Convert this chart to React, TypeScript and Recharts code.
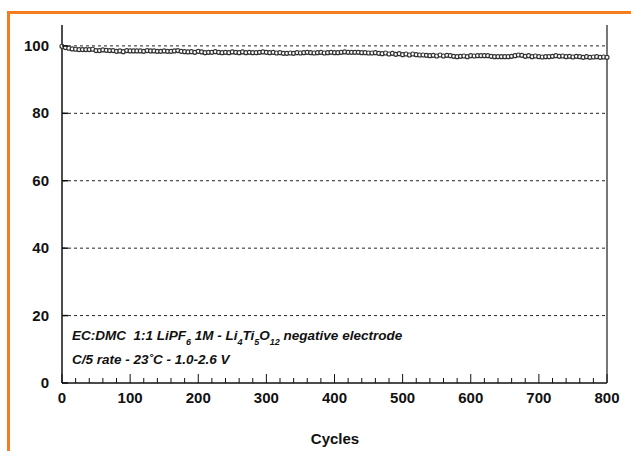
import { LineChart, Line, XAxis, YAxis, ReferenceLine } from 'recharts'

// capacity retention (%), one reading every 5 cycles from cycle 0 to 800
const cycleStep = 5
const retention = [
  99.9, 99.5, 99.3, 99.1, 99.0, 98.9, 98.9, 98.9, 98.9, 99.0,
  98.6, 98.6, 98.8, 98.7, 98.6, 98.6, 98.4, 98.5, 98.3, 98.6,
  98.5, 98.5, 98.5, 98.5, 98.4, 98.6, 98.5, 98.5, 98.4, 98.4,
  98.5, 98.4, 98.4, 98.5, 98.6, 98.4, 98.3, 98.2, 98.3, 98.1,
  98.4, 98.2, 98.0, 98.1, 98.1, 98.3, 98.1, 98.0, 98.1, 98.0,
  98.2, 98.1, 98.0, 98.2, 98.0, 98.1, 98.0, 98.0, 98.1, 98.2,
  98.1, 98.0, 98.1, 97.9, 98.0, 97.8, 97.8, 97.9, 97.8, 98.0,
  97.9, 98.0, 98.1, 98.0, 97.9, 98.0, 98.1, 97.9, 98.0, 98.1,
  98.0, 98.0, 98.1, 98.2, 98.1, 98.1, 98.1, 98.1, 98.0, 98.0,
  97.9, 97.9, 98.0, 97.8, 97.7, 97.9, 97.6, 97.8, 97.5, 97.7,
  97.4, 97.6, 97.3, 97.6, 97.4, 97.3, 97.3, 97.2, 97.1, 97.2,
  97.0, 97.3, 97.0, 97.2, 97.1, 96.9, 96.8, 96.9, 97.0, 96.8,
  97.1, 97.0, 97.1, 97.1, 97.1, 97.1, 96.9, 96.8, 96.8, 96.8,
  96.8, 96.8, 96.9, 97.1, 97.3, 97.2, 96.9, 97.1, 96.8, 97.0,
  96.8, 96.7, 96.8, 96.8, 96.9, 97.1, 96.9, 97.0, 96.8, 96.9,
  96.7, 96.9, 96.8, 96.6, 96.8, 96.6, 96.7, 96.8, 96.6, 96.7,
  96.6,
]
const xMajorTicks = [0, 100, 200, 300, 400, 500, 600, 700, 800]
const xMinorStep = 20
const yTicks = [0, 20, 40, 60, 80, 100]
const gridValues = [20, 40, 60, 80, 100]

const data = retention.map((v, i) => ({ cycle: i * cycleStep, retention: v }))
const xTicks = Array.from({ length: 800 / xMinorStep + 1 }, (_, i) => i * xMinorStep)

const font = '"Liberation Sans", Arial, Helvetica, sans-serif'
const orange = '#f47d20'

function XTick({ x, y, payload }: any) {
  const major = xMajorTicks.includes(payload.value)
  return (
    <g>
      <line x1={x} x2={x} y1={y} y2={y - (major ? 9 : 5)} stroke="#111" strokeWidth={1} />
      {major && (
        <text x={x} y={y + 20} textAnchor="middle" fontFamily={font} fontWeight="bold" fontSize={15} fill="#111">
          {payload.value}
        </text>
      )}
    </g>
  )
}

function YTickLeft({ x, y, payload }: any) {
  return (
    <g>
      <line x1={x} x2={x + 6} y1={y} y2={y} stroke="#111" strokeWidth={1.5} />
      <text x={x - 13} y={y + 5} textAnchor="end" fontFamily={font} fontWeight="bold" fontSize={15} fill="#111">
        {payload.value}
      </text>
    </g>
  )
}

function YTickRight({ x, y }: any) {
  return <line x1={x} x2={x - 6} y1={y} y2={y} stroke="#111" strokeWidth={1.5} />
}

export default function App() {
  const sub = { fontSize: 9 }
  return (
    <div style={{ position: 'absolute', left: 0, top: 0, width: 631, height: 451, overflow: 'hidden', background: '#fff' }}>
      <div
        style={{
          position: 'absolute',
          left: 7,
          top: 11,
          width: 700,
          height: 500,
          borderTop: `3px solid ${orange}`,
          borderLeft: `3px solid ${orange}`,
        }}
      />
      <LineChart
        width={631}
        height={451}
        data={data}
        margin={{ top: 25, right: 0, left: 0, bottom: 0 }}
        style={{ position: 'absolute', left: 0, top: 0 }}
      >
        <XAxis
          dataKey="cycle"
          type="number"
          domain={[0, 800]}
          ticks={xTicks}
          interval={0}
          height={68}
          tickSize={0}
          tickMargin={0}
          tickLine={false}
          tick={<XTick />}
          axisLine={{ stroke: '#111', strokeWidth: 1.5 }}
        />
        <YAxis
          yAxisId="left"
          type="number"
          domain={[0, 106.2]}
          ticks={yTicks}
          interval={0}
          width={62}
          tickSize={0}
          tickMargin={0}
          tickLine={false}
          tick={<YTickLeft />}
          axisLine={{ stroke: '#111', strokeWidth: 1.5 }}
        />
        <YAxis
          yAxisId="right"
          orientation="right"
          type="number"
          domain={[0, 106.2]}
          ticks={yTicks}
          interval={0}
          width={24}
          tickSize={0}
          tickMargin={0}
          tickLine={false}
          tick={<YTickRight />}
          axisLine={{ stroke: '#777', strokeWidth: 2 }}
        />
        {gridValues.map((g) => (
          <ReferenceLine key={g} yAxisId="left" y={g} stroke="#222" strokeDasharray="3 3" strokeWidth={1} />
        ))}
        <Line
          yAxisId="left"
          dataKey="retention"
          stroke="none"
          isAnimationActive={false}
          dot={{ r: 2, stroke: '#333', strokeWidth: 1.2, fill: '#fff' }}
        />
      </LineChart>
      <svg width={631} height={451} style={{ position: 'absolute', left: 0, top: 0, pointerEvents: 'none' }}>
        <text
          x={72}
          y={340}
          fontFamily={font}
          fontStyle="italic"
          fontWeight="bold"
          fontSize={13.5}
          fill="#111"
          style={{ whiteSpace: 'pre' }}
        >
          <tspan>EC:DMC  1:1 LiPF</tspan>
          <tspan dy={5} style={sub}>6</tspan>
          <tspan dy={-5}> 1M - Li</tspan>
          <tspan dy={5} style={sub}>4</tspan>
          <tspan dy={-5}>Ti</tspan>
          <tspan dy={5} style={sub}>5</tspan>
          <tspan dy={-5}>O</tspan>
          <tspan dy={5} style={sub}>12</tspan>
          <tspan dy={-5}> negative electrode</tspan>
        </text>
        <text x={72} y={364} fontFamily={font} fontStyle="italic" fontWeight="bold" fontSize={13.5} fill="#111">
          C/5 rate - 23˚C - 1.0-2.6 V
        </text>
        <text x={335} y={444} textAnchor="middle" fontFamily={font} fontWeight="bold" fontSize={15} fill="#111">
          Cycles
        </text>
      </svg>
    </div>
  )
}
